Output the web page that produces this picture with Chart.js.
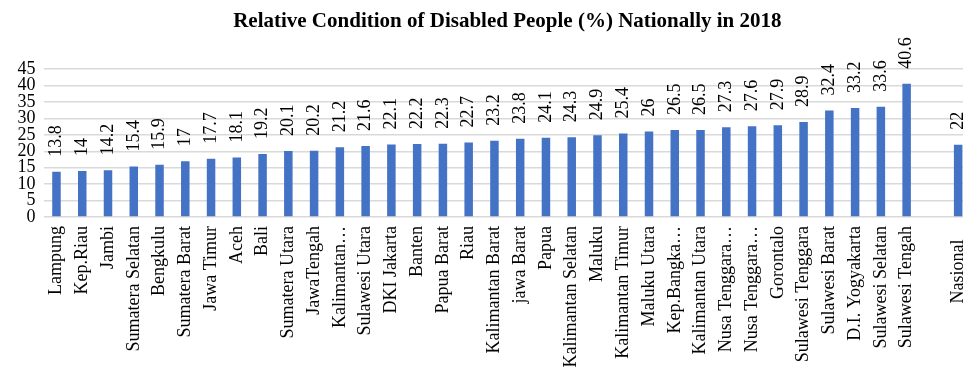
<!DOCTYPE html>
<html lang="en">
  <head>
    <meta charset="UTF-8" />
    <title>Relative Condition of Disabled People 2018</title>
    <script src="https://cdn.jsdelivr.net/npm/chart.js@4.4.0/dist/chart.umd.min.js"></script>
    <style>
      body { margin: 0; overflow: hidden; background: #fff; }
    </style>
  </head>
  <body>
    <canvas id="myChart" width="989" height="372"></canvas>
    <script>
      const provinces = [
        'Lampung', 'Kep.Riau', 'Jambi', 'Sumatera Selatan', 'Bengkulu', 'Sumatera Barat',
        'Jawa Timur', 'Aceh', 'Bali', 'Sumatera Utara', 'JawaTengah', 'Kalimantan…',
        'Sulawesi Utara', 'DKI Jakarta', 'Banten', 'Papua Barat', 'Riau', 'Kalimantan Barat',
        'jawa Barat', 'Papua', 'Kalimantan Selatan', 'Maluku', 'Kalimantan Timur', 'Maluku Utara',
        'Kep.Bangka…', 'Kalimantan Utara', 'Nusa Tenggara…', 'Nusa Tenggara…', 'Gorontalo',
        'Sulawesi Tenggara', 'Sulawesi Barat', 'D.I. Yogyakarta', 'Sulawesi Selatan', 'Sulawesi Tengah',
        '', 'Nasional   '
      ];
      const percentages = [
        13.8, 14, 14.2, 15.4, 15.9, 17, 17.7, 18.1, 19.2, 20.1, 20.2, 21.2,
        21.6, 22.1, 22.2, 22.3, 22.7, 23.2, 23.8, 24.1, 24.3, 24.9, 25.4, 26,
        26.5, 26.5, 27.3, 27.6, 27.9, 28.9, 32.4, 33.2, 33.6, 40.6,
        null, 22
      ];
      const yTicks = [0, 5, 10, 15, 20, 25, 30, 35, 40, 45];

      const serif = "'Liberation Serif', 'Times New Roman', serif";

      // value labels written upwards above each bar
      const valueLabels = {
        id: 'valueLabels',
        afterDatasetsDraw(chart) {
          const ctx = chart.ctx;
          const meta = chart.getDatasetMeta(0);
          ctx.save();
          ctx.font = '18px ' + serif;
          ctx.fillStyle = '#000';
          ctx.textAlign = 'left';
          ctx.textBaseline = 'middle';
          meta.data.forEach((bar, i) => {
            const v = percentages[i];
            if (v === null) return;
            ctx.save();
            ctx.translate(bar.x, bar.y - 15);
            ctx.rotate(-Math.PI / 2);
            ctx.fillText(String(v), 0, 0);
            ctx.restore();
          });
          ctx.restore();
        }
      };

      const ctx = document.getElementById('myChart').getContext('2d');
      const myChart = new Chart(ctx, {
        type: 'bar',
        data: {
          labels: provinces,
          datasets: [{
            data: percentages,
            backgroundColor: '#4472C4',
            borderWidth: 0,
            categoryPercentage: 0.33,
            barPercentage: 1
          }]
        },
        options: {
          responsive: false,
          animation: false,
          layout: { padding: { left: 0, right: 3.6, top: 0, bottom: 0 } },
          plugins: {
            legend: { display: false },
            tooltip: { enabled: false },
            title: {
              display: true,
              fullSize: false,
              text: 'Relative Condition of Disabled People (%) Nationally in 2018',
              color: '#000',
              font: { family: serif, size: 21, weight: 'bold' },
              padding: { top: 9, bottom: 35 }
            }
          },
          scales: {
            x: {
              grid: { display: false, drawTicks: false },
              border: { display: false },
              ticks: {
                autoSkip: false,
                minRotation: 90,
                maxRotation: 90,
                padding: 9,
                color: '#000',
                font: { family: serif, size: 18 }
              },
              afterFit(scale) { scale.height = 155; }
            },
            y: {
              min: 0,
              max: 45,
              afterBuildTicks(scale) { scale.ticks = yTicks.map(v => ({ value: v })); },
              grid: { color: '#d9d9d9', lineWidth: 1.5, drawTicks: false },
              border: { display: false },
              ticks: {
                autoSkip: false,
                padding: 8,
                color: '#000',
                font: { family: serif, size: 18 }
              },
              afterFit(scale) { scale.width = 43.6; }
            }
          }
        },
        plugins: [valueLabels]
      });
    </script>
  </body>
</html>
